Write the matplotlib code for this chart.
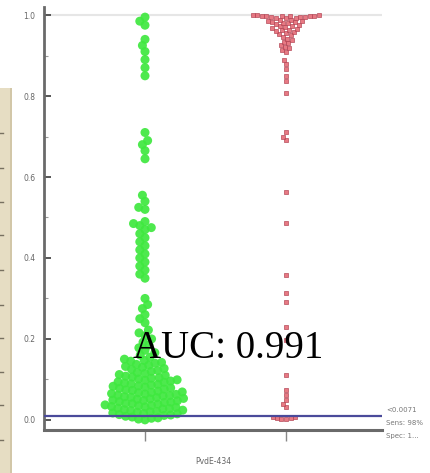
import numpy as np
import matplotlib
matplotlib.use("Agg")
import matplotlib.pyplot as plt
from matplotlib.patches import Rectangle
from matplotlib.lines import Line2D

# ---------------- data ----------------
groups = ["Negative", "Positive"]
neg_values = [
    0.000, 0.002, 0.004, 0.005, 0.007, 0.009, 0.011, 0.012, 0.013,
    0.015, 0.016, 0.017, 0.019, 0.020, 0.021, 0.023, 0.024, 0.025, 0.027, 0.028, 0.029,
    0.031, 0.032, 0.033, 0.035, 0.036, 0.037, 0.039, 0.040, 0.041, 0.043, 0.044, 0.045,
    0.047, 0.048, 0.049, 0.051, 0.052, 0.053, 0.055, 0.056, 0.057, 0.059, 0.060, 0.061,
    0.063, 0.064, 0.065, 0.067, 0.068, 0.069,
    0.071, 0.073, 0.074, 0.076, 0.078, 0.079, 0.081, 0.083, 0.084, 0.086, 0.088, 0.089,
    0.091, 0.093, 0.094, 0.096, 0.098, 0.099, 0.101, 0.103, 0.104, 0.106, 0.108, 0.110,
    0.112, 0.115, 0.117, 0.120, 0.122, 0.125, 0.127, 0.130, 0.132, 0.135, 0.137, 0.140,
    0.142, 0.145, 0.147, 0.150,
    0.155, 0.160, 0.166, 0.172, 0.178, 0.185, 0.192, 0.200, 0.208, 0.215, 0.222,
    0.240, 0.250, 0.260, 0.275, 0.285, 0.300,
    0.350, 0.360, 0.370, 0.380, 0.390, 0.400, 0.410, 0.420, 0.430, 0.440, 0.450,
    0.460, 0.470, 0.475, 0.480, 0.485, 0.490,
    0.520, 0.525, 0.540, 0.555,
    0.645, 0.665, 0.680, 0.690, 0.710,
    0.850, 0.870, 0.890, 0.910, 0.925, 0.940,
    0.975, 0.985, 0.995,
]
pos_values = [
    0.002, 0.003, 0.004, 0.005, 0.006, 0.008,
    0.032, 0.040, 0.050, 0.062, 0.074, 0.111,
    0.198, 0.230, 0.291, 0.314, 0.358, 0.486, 0.563,
    0.692, 0.700, 0.710, 0.807, 0.838, 0.850, 0.866, 0.878, 0.888,
    0.910, 0.914, 0.918, 0.922, 0.926, 0.930, 0.934, 0.938, 0.942, 0.946, 0.950, 0.953,
    0.956, 0.958, 0.960, 0.962, 0.964, 0.966, 0.968, 0.970, 0.972, 0.974,
    0.976, 0.978, 0.980, 0.981, 0.982, 0.984, 0.985, 0.986, 0.988, 0.989,
    0.992, 0.993, 0.994, 0.995, 0.996, 0.996, 0.997, 0.997, 0.998, 0.998,
    0.999, 0.999, 1.000, 1.000, 1.000,
]
cutoff = 0.0099
y_ticks = [0.0, 0.2, 0.4, 0.6, 0.8, 1.0]
y_ticklabels = ["0.0", "0.2", "0.4", "0.6", "0.8", "1.0"]
auc_text = "AUC: 0.991"
side_texts = ["<0.0071", "Sens: 98%", "Spec: 1..."]
x_label = "PvdE-434"

# ---------------- figure ----------------
W, H = 430, 473
fig = plt.figure(figsize=(W / 100, H / 100), dpi=100)
ax = fig.add_axes([44 / W, 1 - 430 / H, (382 - 44) / W, (430 - 7) / H])
ax.set_xlim(0.284, 2.68)
ax.set_ylim(-0.025, 1.02)

fig.canvas.draw()
trans = ax.transData


def swarm_offsets(values, xc, d):
    vals = np.asarray(values, dtype=float)
    order = np.argsort(vals, kind="stable")
    pix = trans.transform(np.column_stack([np.full(len(vals), xc), vals]))
    py = pix[:, 1]
    placed = []
    offs = np.zeros(len(vals))
    for i in order:
        y = py[i]
        cands = [0.0]
        near = [(px, pyy) for px, pyy in placed if abs(pyy - y) < d]
        for px, pyy in near:
            dx = np.sqrt(d * d - (pyy - y) ** 2)
            cands += [px + dx, px - dx]
        cands.sort(key=lambda c: (abs(c), c))
        for c in cands:
            if all((c - px) ** 2 + (y - pyy) ** 2 >= d * d - 1e-6 for px, pyy in near):
                break
        placed.append((c, y))
        offs[i] = c
    p0 = trans.transform((xc, 0))[0]
    p1 = trans.transform((xc + 1, 0))[0]
    return xc + offs / (p1 - p0)


xs_neg = swarm_offsets(neg_values, 1, 6.6)
xs_pos = swarm_offsets(pos_values, 2, 4.6)

ax.axhline(1.0, color="#e6e6e6", lw=1.5, zorder=0)
ax.scatter(xs_neg, neg_values, s=42, marker="o", color="#3fe83f", edgecolors="none",
           alpha=0.92, zorder=3)
ax.scatter(xs_pos, pos_values, s=10, marker="s", color="#e56a76", edgecolors="#b04050",
           linewidths=0.5, alpha=0.9, zorder=3)

ax.axhline(cutoff, color="#4a4a9a", lw=1.6, zorder=4)

# axes styling
for s in ["top", "right"]:
    ax.spines[s].set_visible(False)
ax.spines["left"].set_color("#6a6a6a")
ax.spines["left"].set_linewidth(2)
ax.spines["bottom"].set_color("#6a6a6a")
ax.spines["bottom"].set_linewidth(2.2)
ax.set_yticks(y_ticks)
ax.set_yticklabels(y_ticklabels, fontsize=5.5, color="#666666")
ax.set_yticks(np.arange(0.1, 1.0, 0.2), minor=True)
ax.tick_params(axis="y", which="major", direction="in", length=5, width=1.4, color="#555555", pad=6)
ax.tick_params(axis="y", which="minor", direction="in", length=3, width=0.8, color="#999999")
ax.set_xticks([1, 2])
ax.set_xticklabels(["", ""])
ax.tick_params(axis="x", direction="out", length=8, width=1, color="#888888")
ax.set_xlabel(x_label, fontsize=5.5, color="#666666", labelpad=8)
ax.set_facecolor("white")

fig.text(133 / W, 1 - 358 / H, auc_text, fontsize=28, family="Liberation Serif",
         color="black", ha="left", va="baseline", zorder=10)

for i, t in enumerate(side_texts):
    fig.text(386 / W, 1 - (410 + i * 13) / H, t, fontsize=5, color="#777777",
             ha="left", va="center")

# left strip from neighbouring panel
fig.patches.append(Rectangle((0, 0), 12 / W, 1 - 88 / H, transform=fig.transFigure,
                             facecolor="#e6ddc3", edgecolor="none", zorder=0))
fig.patches.append(Rectangle((10 / W, 0), 2 / W, 1 - 88 / H, transform=fig.transFigure,
                             facecolor="#d2c7a8", edgecolor="none", zorder=0))
for yy in [133, 168, 202, 235, 270, 305, 338, 372, 405, 440]:
    fig.lines.append(Line2D([0, 3 / W], [1 - yy / H, 1 - yy / H], transform=fig.transFigure,
                            color="#777060", lw=1))

fig.savefig("out.png", dpi=100, facecolor="white")
